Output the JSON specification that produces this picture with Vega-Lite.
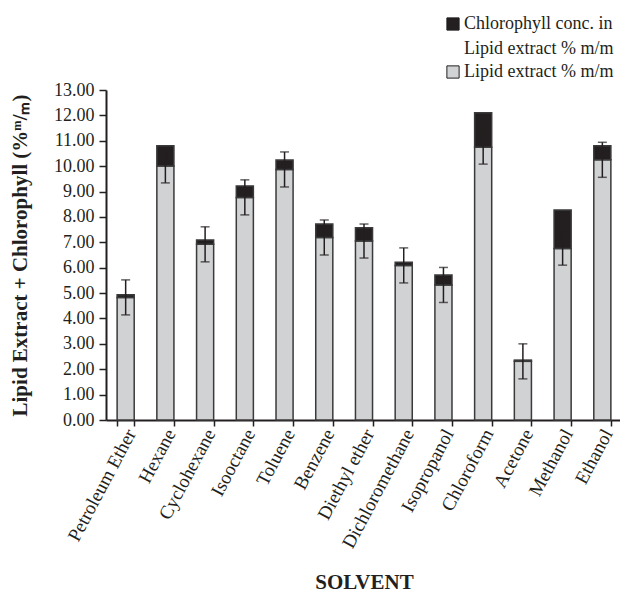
{
  "$schema": "https://vega.github.io/schema/vega-lite/v6.json",
  "autosize": "none",
  "width": 516,
  "height": 330,
  "padding": {"left": 106, "top": 90, "right": 0, "bottom": 174},
  "background": "white",
  "config": {
    "font": "Liberation Serif",
    "view": {"stroke": null},
    "axis": {"labelFont": "Liberation Serif", "titleFont": "Liberation Serif", "labelColor": "#231f20", "titleColor": "#231f20", "domainColor": "#231f20", "tickColor": "#231f20", "grid": false, "labelOverlap": false},
    "axisY": {"labelOverlap": false, "labelFont": "Liberation Serif", "labelFontSize": 18, "titleFont": "Liberation Serif", "titleFontSize": 21, "titleFontWeight": "bold"},
    "legend": {"labelFont": "Liberation Serif", "labelFontSize": 18, "labelColor": "#231f20"}
  },
  "resolve": {"axis": {"y": "shared"}, "scale": {"y": "shared"}},
  "datasets": {
    "bars": [
      {"solvent": "Petroleum Ether", "component": "Lipid extract % m/m", "value": 4.83, "order": 1},
      {"solvent": "Petroleum Ether", "component": "Chlorophyll conc. in Lipid extract % m/m", "value": 0.1, "order": 2},
      {"solvent": "Hexane", "component": "Lipid extract % m/m", "value": 10.01, "order": 1},
      {"solvent": "Hexane", "component": "Chlorophyll conc. in Lipid extract % m/m", "value": 0.79, "order": 2},
      {"solvent": "Cyclohexane", "component": "Lipid extract % m/m", "value": 6.92, "order": 1},
      {"solvent": "Cyclohexane", "component": "Chlorophyll conc. in Lipid extract % m/m", "value": 0.17, "order": 2},
      {"solvent": "Isooctane", "component": "Lipid extract % m/m", "value": 8.77, "order": 1},
      {"solvent": "Isooctane", "component": "Chlorophyll conc. in Lipid extract % m/m", "value": 0.45, "order": 2},
      {"solvent": "Toluene", "component": "Lipid extract % m/m", "value": 9.87, "order": 1},
      {"solvent": "Toluene", "component": "Chlorophyll conc. in Lipid extract % m/m", "value": 0.37, "order": 2},
      {"solvent": "Benzene", "component": "Lipid extract % m/m", "value": 7.19, "order": 1},
      {"solvent": "Benzene", "component": "Chlorophyll conc. in Lipid extract % m/m", "value": 0.53, "order": 2},
      {"solvent": "Diethyl ether", "component": "Lipid extract % m/m", "value": 7.05, "order": 1},
      {"solvent": "Diethyl ether", "component": "Chlorophyll conc. in Lipid extract % m/m", "value": 0.52, "order": 2},
      {"solvent": "Dichloromethane", "component": "Lipid extract % m/m", "value": 6.09, "order": 1},
      {"solvent": "Dichloromethane", "component": "Chlorophyll conc. in Lipid extract % m/m", "value": 0.12, "order": 2},
      {"solvent": "Isopropanol", "component": "Lipid extract % m/m", "value": 5.32, "order": 1},
      {"solvent": "Isopropanol", "component": "Chlorophyll conc. in Lipid extract % m/m", "value": 0.39, "order": 2},
      {"solvent": "Chloroform", "component": "Lipid extract % m/m", "value": 10.74, "order": 1},
      {"solvent": "Chloroform", "component": "Chlorophyll conc. in Lipid extract % m/m", "value": 1.36, "order": 2},
      {"solvent": "Acetone", "component": "Lipid extract % m/m", "value": 2.31, "order": 1},
      {"solvent": "Acetone", "component": "Chlorophyll conc. in Lipid extract % m/m", "value": 0.05, "order": 2},
      {"solvent": "Methanol", "component": "Lipid extract % m/m", "value": 6.76, "order": 1},
      {"solvent": "Methanol", "component": "Chlorophyll conc. in Lipid extract % m/m", "value": 1.51, "order": 2},
      {"solvent": "Ethanol", "component": "Lipid extract % m/m", "value": 10.25, "order": 1},
      {"solvent": "Ethanol", "component": "Chlorophyll conc. in Lipid extract % m/m", "value": 0.55, "order": 2}
    ],
    "errors": [
      {"solvent": "Petroleum Ether", "lipid": 4.83, "err": 0.69},
      {"solvent": "Hexane", "lipid": 10.01, "err": 0.67},
      {"solvent": "Cyclohexane", "lipid": 6.92, "err": 0.69},
      {"solvent": "Isooctane", "lipid": 8.77, "err": 0.69},
      {"solvent": "Toluene", "lipid": 9.87, "err": 0.69},
      {"solvent": "Benzene", "lipid": 7.19, "err": 0.69},
      {"solvent": "Diethyl ether", "lipid": 7.05, "err": 0.67},
      {"solvent": "Dichloromethane", "lipid": 6.09, "err": 0.69},
      {"solvent": "Isopropanol", "lipid": 5.32, "err": 0.69},
      {"solvent": "Chloroform", "lipid": 10.74, "err": 0.66},
      {"solvent": "Acetone", "lipid": 2.31, "err": 0.69},
      {"solvent": "Methanol", "lipid": 6.76, "err": 0.66},
      {"solvent": "Ethanol", "lipid": 10.25, "err": 0.69}
    ]
  },
  "layer": [
    {
      "data": {"name": "bars"},
      "mark": {"type": "bar", "stroke": "#3a3a3a", "strokeWidth": 1.5},
      "encoding": {
        "x": {
          "field": "solvent", "type": "nominal", "sort": null,
          "scale": {"paddingInner": 0.57, "paddingOuter": 0.28},
          "axis": {
            "title": "SOLVENT", "titleFont": "Liberation Serif", "titleFontSize": 21, "titleFontWeight": "bold", "titlePadding": 20,
            "labelAngle": -62, "labelAlign": "right", "labelBaseline": "middle", "labelFont": "Liberation Serif", "labelFontSize": 19, "labelPadding": 4, "labelOffset": 5, "labelOverlap": false,
            "tickBand": "extent", "tickSize": 6, "tickWidth": 1.5, "domainWidth": 2
          }
        },
        "y": {
          "field": "value", "type": "quantitative", "stack": "zero",
          "title": "Lipid Extract + Chlorophyll (%ᵐ/ₘ)",
          "scale": {"domain": [0, 13], "nice": false},
          "axis": {
            "titleFont": "Liberation Serif", "titleFontSize": 21, "titleFontWeight": "bold", "titlePadding": 23,
            "values": [0,1,2,3,4,5,6,7,8,9,10,11,12,13], "format": ".2f", "labelOverlap": false,
            "labelFont": "Liberation Serif", "labelFontSize": 18, "labelPadding": 5, "tickSize": 7, "tickWidth": 1.5, "domainWidth": 2
          }
        },
        "order": {"field": "order", "type": "quantitative"},
        "color": {
          "field": "component", "type": "nominal",
          "scale": {"domain": ["Chlorophyll conc. in Lipid extract % m/m", "Lipid extract % m/m"], "range": ["#231f20", "#d1d2d4"]},
          "legend": {
            "title": null, "orient": "none", "legendX": 338, "legendY": -75,
            "symbolType": "square", "symbolSize": 150, "symbolStrokeColor": "#231f20", "symbolStrokeWidth": 1,
            "labelFont": "Liberation Serif", "labelFontSize": 18, "labelColor": "#231f20", "labelLimit": 300,
            "labelExpr": "datum.label == 'Lipid extract % m/m' ? datum.label : ['Chlorophyll conc. in', 'Lipid extract % m/m']",
            "rowPadding": 5, "labelOffset": 2,
            "encode": {"labels": {"update": {"lineHeight": {"value": 25}}}}
          }
        }
      }
    },
    {
      "data": {"name": "errors"},
      "mark": {"type": "errorbar", "ticks": {"size": 9, "thickness": 1.5, "color": "#231f20"}, "rule": {"strokeWidth": 1.5, "color": "#231f20"}},
      "encoding": {
        "x": {"field": "solvent", "type": "nominal", "sort": null},
        "y": {
          "field": "lipid", "type": "quantitative", "title": "Lipid Extract + Chlorophyll (%ᵐ/ₘ)",
          "axis": {
            "titleFont": "Liberation Serif", "titleFontSize": 21, "titleFontWeight": "bold", "titlePadding": 23,
            "values": [0,1,2,3,4,5,6,7,8,9,10,11,12,13], "format": ".2f", "labelOverlap": false,
            "labelFont": "Liberation Serif", "labelFontSize": 18, "labelPadding": 5, "tickSize": 7, "tickWidth": 1.5, "domainWidth": 2
          }
        },
        "yError": {"field": "err"}
      }
    }
  ]
}
